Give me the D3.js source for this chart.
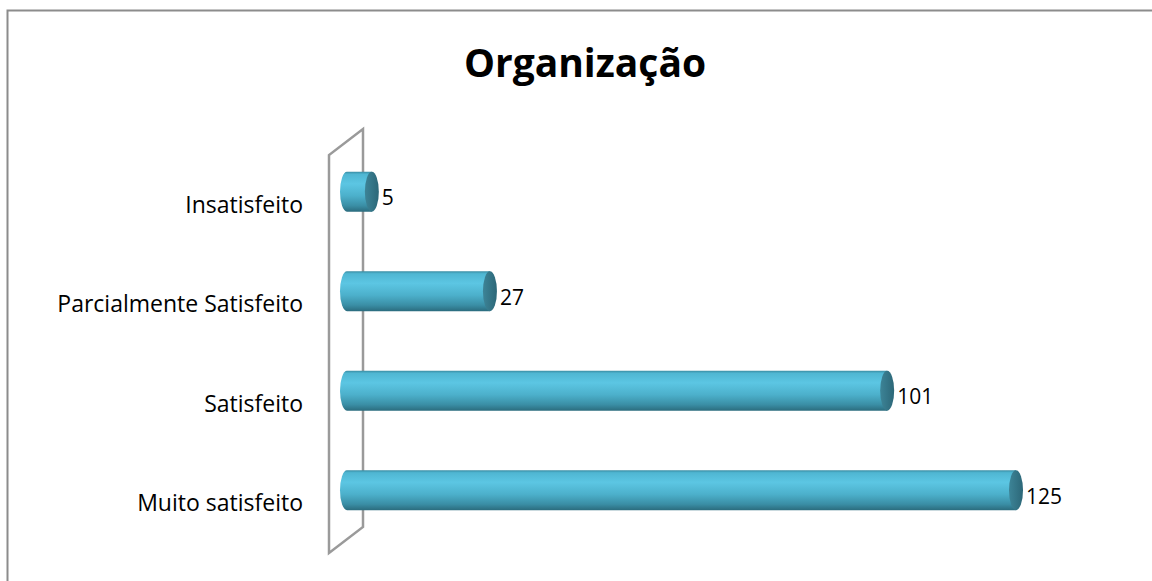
<!DOCTYPE html>
<html>
<head>
<meta charset="utf-8">
<script src="https://cdn.jsdelivr.net/npm/d3@7"></script>
<style>
  body { margin: 0; background: #fff; overflow: hidden; }
  svg { display: block; }
  text { font-family: "Open Sans", sans-serif; fill: #000; }
</style>
</head>
<body>
<div id="wrapper"></div>
<script>
// data
const titleText = "Organização"
const categories = ["Insatisfeito", "Parcialmente Satisfeito", "Satisfeito", "Muito satisfeito"]
const values = [5, 27, 101, 125]

function drawChart() {
  const dataset = categories.map((c, i) => ({ category: c, value: values[i] }))

  // chart dimensions
  let dimensions = {
    width: 1152,
    height: 581,
    depth: { dx: 34, dy: 26 },
  }

  const wrapper = d3.select("#wrapper")
    .append("svg")
    .attr("width", dimensions.width)
    .attr("height", dimensions.height)

  // outer frame (runs off right and bottom edge)
  wrapper.append("rect")
    .attr("x", 7.5)
    .attr("y", 10.5)
    .attr("width", 1160)
    .attr("height", 600)
    .attr("fill", "none")
    .attr("stroke", "#8c8c8c")
    .attr("stroke-width", 2)

  // scales
  const xScale = d3.scaleLinear()
    .domain([0, 125])
    .range([352, 1023])

  // front plane for category labels, mid depth for the bars
  const yFront = d3.scaleBand()
    .domain(categories)
    .range([155, 553])
  const yBar = d3.scaleBand()
    .domain(categories)
    .range([142, 540])
    .paddingInner(0.6)
    .paddingOuter(0.3)

  // back wall (3d side plane)
  const x0 = 329
  const [top, bottom] = yFront.range()
  const { dx, dy } = dimensions.depth
  wrapper.append("path")
    .attr("d", `M${x0},${bottom} L${x0},${top} L${x0 + dx},${top - dy} L${x0 + dx},${bottom - dy} Z`)
    .attr("fill", "none")
    .attr("stroke", "#9a9a9a")
    .attr("stroke-width", 2.5)
    .attr("stroke-linejoin", "miter")

  // gradients
  const defs = wrapper.append("defs")
  const body = defs.append("linearGradient")
    .attr("id", "cyl-body")
    .attr("x1", 0).attr("y1", 0).attr("x2", 0).attr("y2", 1)
  const bodyStops = [
    [0, "#3a8ea5"], [0.06, "#4fb6d2"], [0.3, "#5cc6e3"],
    [0.6, "#4cb0cb"], [0.85, "#3a8ea5"], [1, "#2b6c7e"],
  ]
  bodyStops.forEach(([o, c]) => body.append("stop").attr("offset", o).attr("stop-color", c))

  const cap = defs.append("linearGradient")
    .attr("id", "cyl-cap")
    .attr("x1", 0).attr("y1", 0).attr("x2", 1).attr("y2", 0)
  cap.append("stop").attr("offset", 0).attr("stop-color", "#3d8497")
  cap.append("stop").attr("offset", 1).attr("stop-color", "#2c6778")

  // draw bars as horizontal cylinders
  const rx = 7
  const barLeft = 340
  const bars = wrapper.append("g")
    .selectAll("g")
    .data(dataset)
    .join("g")

  bars.append("path")
    .attr("d", d => {
      const y = yBar(d.category)
      const h = yBar.bandwidth()
      const right = xScale(d.value) - rx
      const left = barLeft + rx
      return `M${left},${y} L${right},${y} L${right},${y + h} L${left},${y + h}` +
        ` A${rx},${h / 2} 0 0 1 ${left},${y} Z`
    })
    .attr("fill", "url(#cyl-body)")

  bars.append("ellipse")
    .attr("cx", d => xScale(d.value) - rx)
    .attr("cy", d => yBar(d.category) + yBar.bandwidth() / 2)
    .attr("rx", rx)
    .attr("ry", yBar.bandwidth() / 2)
    .attr("fill", "url(#cyl-cap)")

  // value labels
  bars.append("text")
    .attr("x", d => xScale(d.value) + 3)
    .attr("y", d => yBar(d.category) + yBar.bandwidth() / 2 + 6)
    .attr("dy", "0.35em")
    .style("font-size", "21px")
    .text(d => d.value)

  // category labels
  wrapper.append("g")
    .selectAll("text")
    .data(categories)
    .join("text")
    .attr("x", 303)
    .attr("y", d => yFront(d) + yFront.bandwidth() / 2)
    .attr("dy", "0.35em")
    .attr("text-anchor", "end")
    .style("font-size", "23px")
    .text(d => d)

  // title
  wrapper.append("text")
    .attr("x", 585)
    .attr("y", 77)
    .attr("text-anchor", "middle")
    .style("font-size", "39px")
    .style("font-weight", "bold")
    .text(titleText)
}
drawChart()
</script>
</body>
</html>
